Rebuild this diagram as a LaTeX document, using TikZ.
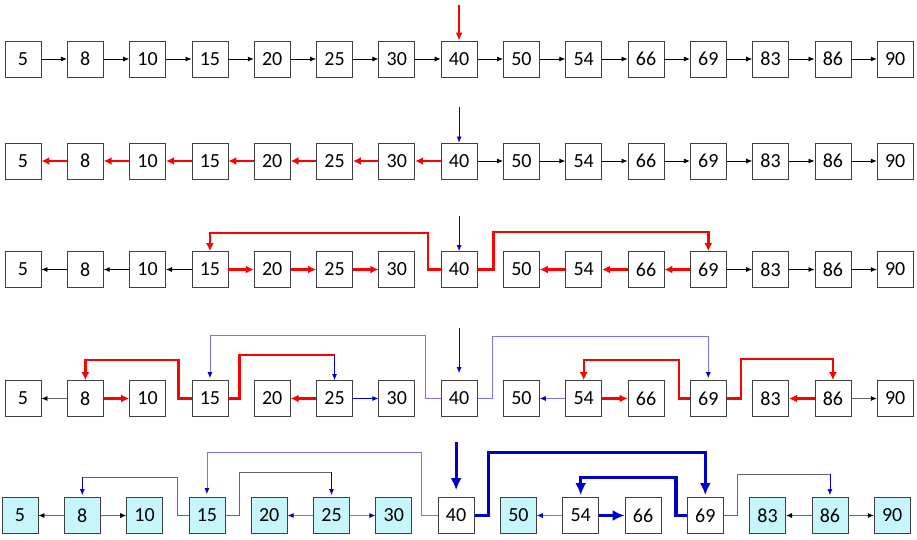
\documentclass[tikz,border=0pt]{standalone}
\usepackage{fontspec}
\setmainfont{Carlito}
\usetikzlibrary{arrows.meta,positioning,calc}
\definecolor{hitred}{RGB}{255,0,0}
\definecolor{walkblue}{RGB}{0,0,204}
\definecolor{paleblue}{RGB}{120,120,235}
\definecolor{donecyan}{RGB}{198,246,252}

\begin{document}
\begin{tikzpicture}[
  x=1pt, y=-1pt,
  key/.style={draw=black!75, fill=white, line width=0.8pt, minimum width=36pt, minimum height=36pt, inner sep=0pt, font=\fontsize{20}{24}\selectfont},
  done/.style={key, fill=donecyan},
  nxt/.style={draw=black, line width=0.8pt, -{Latex[length=6pt,width=5pt]}},
  greynxt/.style={draw=black!60, line width=0.8pt, -{Latex[length=6pt,width=5pt,color=black]}},
  greypath/.style={draw=black!60, line width=0.8pt},
  redpath/.style={draw=hitred, line width=2.4pt},
  redwalk/.style={redpath, -{Latex[length=8pt,width=8pt]}},
  bluepath/.style={draw=walkblue, line width=3.2pt},
  bluewalk/.style={bluepath, -{Latex[length=12pt,width=11pt]}},
  probe/.style={draw=walkblue, line width=0.8pt, -{Latex[length=6pt,width=5pt]}},
  palepath/.style={draw=paleblue, line width=0.8pt},
  faint/.style={palepath, -{Latex[length=6pt,width=5pt,color=walkblue]}}
]
  \useasboundingbox (0,0) rectangle (917,540);

  % four rows of plain keys, last row with the found ones shaded
  \foreach \r/\y in {a/59,b/161,c/269.5,d/398.5}
    \foreach \v [count=\i from 0] in {5,8,10,15,20,25,30,40,50,54,66,69,83,86,90}
      \node[key] (\r\v) at ({23+62.3*\i},\y) {\v};
  \foreach \v/\s [count=\i from 0] in {5/done,8/done,10/done,15/done,20/done,25/done,30/done,40/key,50/done,54/key,66/key,69/key,83/done,86/done,90/done}
    \node[\s] (e\v) at ({20+62.3*\i},515.5) {\v};

  % row a
  \foreach \p/\q in {5/8,8/10,10/15,15/20,20/25,25/30,30/40,40/50,50/54,54/66,66/69,69/83,83/86,86/90}
    \draw[nxt] (a\p) -- (a\q);
  \draw[redpath, line width=2pt, -{Latex[length=8pt,width=7pt]}] ([yshift=36pt]a40.north) -- (a40.north);

  % row b
  \foreach \p/\q in {40/30,30/25,25/20,20/15,15/10,10/8,8/5}
    \draw[redwalk] (b\p) -- (b\q);
  \foreach \p/\q in {40/50,50/54,54/66,66/69,69/83,83/86,86/90}
    \draw[nxt] (b\p) -- (b\q);
  \draw[probe] ([yshift=36pt]b40.north) -- (b40.north);

  % row c
  \foreach \p/\q in {15/10,10/8,8/5,69/83,83/86,86/90}
    \draw[nxt] (c\p) -- (c\q);
  \foreach \p/\q in {15/20,20/25,25/30,69/66,66/54,54/50}
    \draw[redwalk] (c\p) -- (c\q);
  \draw[probe] ([yshift=35pt]c40.north) -- (c40.north);
  \draw[redwalk] (c40.west) -- ++(-13,0) |- ([yshift=18pt]c15.north) -- (c15.north);
  \draw[redwalk] (c40.east) -- ++(16,0) |- ([yshift=19pt]c69.north) -- (c69.north);

  % row d
  \draw[greynxt] (d8) -- (d5);
  \draw[greynxt] (d86) -- (d90);
  \foreach \p/\q in {8/10,25/20,54/66,86/83}
    \draw[redwalk] (d\p) -- (d\q);
  \draw[probe] (d25) -- (d30);
  \draw[faint] (d54) -- (d50);
  \draw[probe] ([yshift=52pt]d40.north) -- ([yshift=7pt]d40.north);
  \draw[faint] (d40.west) -- ++(-15,0) |- ([yshift=45pt]d15.north) -- ([yshift=2pt]d15.north);
  \draw[faint] (d40.east) -- ++(15,0) |- ([yshift=44pt]d69.north) -- ([yshift=2pt]d69.north);
  \draw[redwalk] (d15.west) -- ++(-13,0) |- ([yshift=20pt]d8.north) -- (d8.north);
  \draw[redpath] (d15.east) -- ++(11,0) |- ([yshift=25pt]d25.north);
  \draw[probe] ([yshift=25pt]d25.north) -- (d25.north);
  \draw[redwalk] (d69.west) -- ++(-11,0) |- ([yshift=20pt]d54.north) -- (d54.north);
  \draw[redwalk] (d69.east) -- ++(14,0) |- ([yshift=21pt]d86.north) -- (d86.north);

  % row e
  \foreach \p/\q in {8/5,8/10,86/83,86/90}
    \draw[greynxt] (e\p) -- (e\q);
  \foreach \p/\q in {25/20,25/30,54/50}
    \draw[faint] (e\p) -- (e\q);
  \draw[bluewalk] (e54) -- (e66);
  \draw[bluewalk] ([yshift=55pt]e40.north) -- ([yshift=7pt]e40.north);
  \draw[faint] (e40.west) -- ++(-16,0) |- ([yshift=45pt]e15.north) -- ([yshift=3pt]e15.north);
  \draw[greypath] (e15.west) -- ++(-11,0) |- ([yshift=20pt]e8.north);
  \draw[probe] ([yshift=20pt]e8.north) -- ([yshift=2pt]e8.north);
  \draw[greypath] (e15.east) -- ++(14,0) |- ([yshift=25pt]e25.north);
  \draw[probe] ([yshift=25pt]e25.north) -- ([yshift=2pt]e25.north);
  \draw[bluewalk] (e40.east) -- ++(14,0) |- ([yshift=45pt]e69.north) -- ([yshift=2pt]e69.north);
  \draw[bluewalk] (e69.west) -- ++(-11,0) |- ([yshift=20pt]e54.north) -- ([yshift=2pt]e54.north);
  \draw[greypath] (e69.east) -- ++(14,0) |- ([yshift=23pt]e86.north);
  \draw[probe] ([yshift=23pt]e86.north) -- ([yshift=2pt]e86.north);
\end{tikzpicture}
\end{document}
